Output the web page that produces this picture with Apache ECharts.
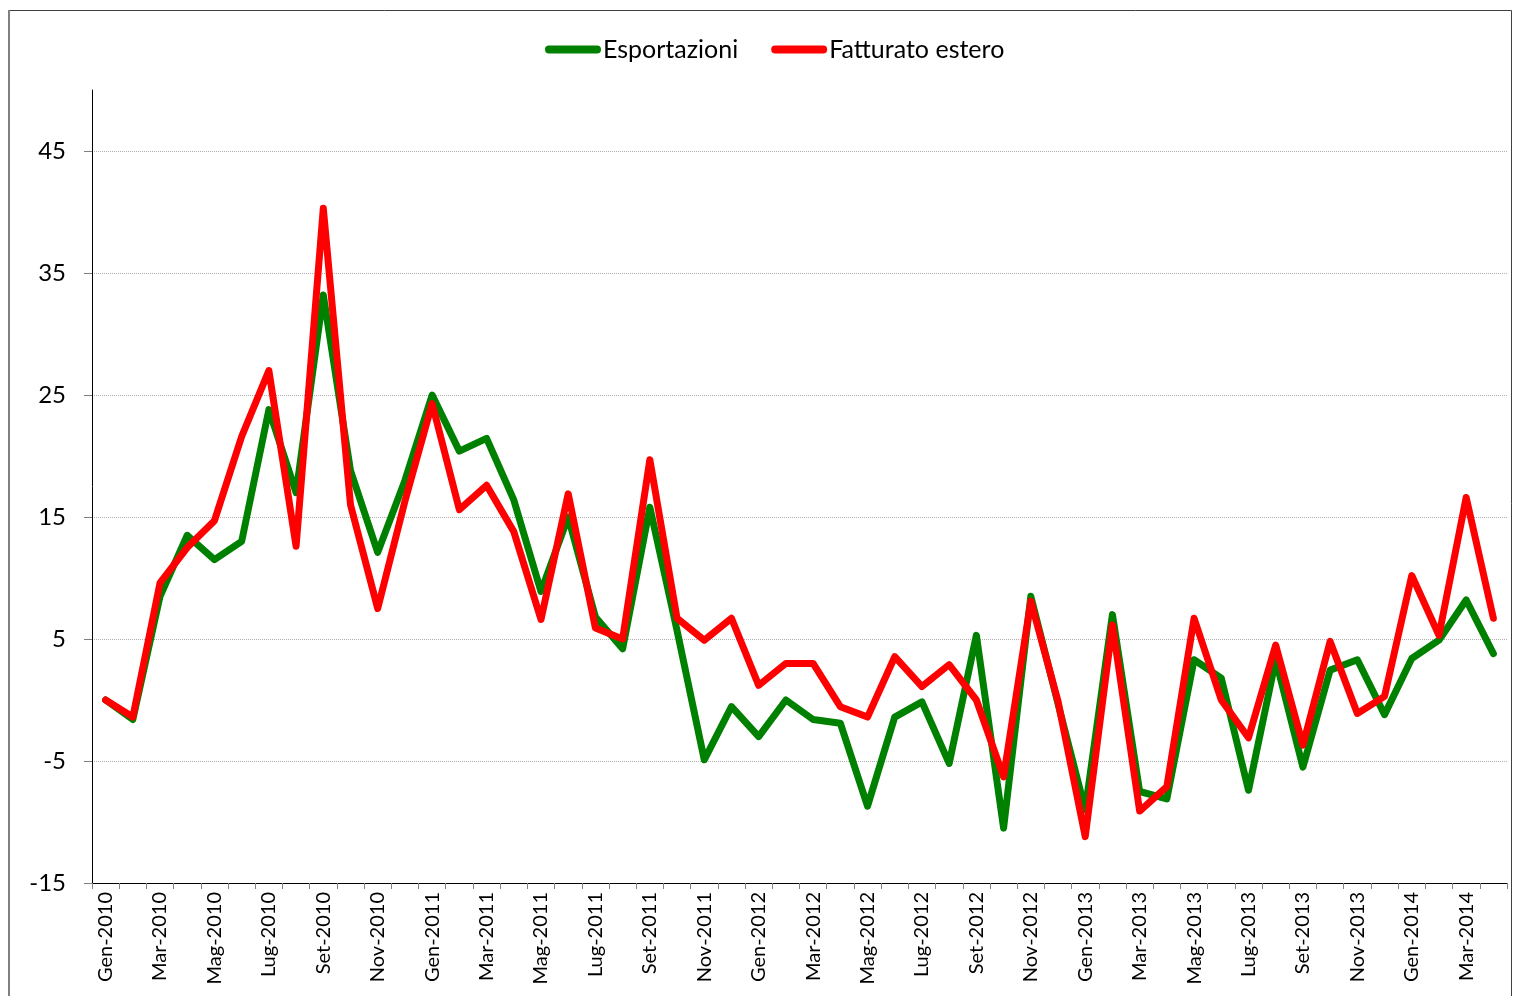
<!DOCTYPE html>
<html>
<head>
<meta charset="utf-8">
<script src="https://cdn.jsdelivr.net/npm/echarts@6/dist/echarts.min.js"></script>
<style>
html,body{margin:0;padding:0;background:#fff;}
#chart{width:1513px;height:996px;}
</style>
</head>
<body>
<div id="chart"></div>
<script>
const categories = [
  'Gen-2010','Feb-2010','Mar-2010','Apr-2010','Mag-2010','Giu-2010','Lug-2010','Ago-2010','Set-2010','Ott-2010','Nov-2010','Dic-2010',
  'Gen-2011','Feb-2011','Mar-2011','Apr-2011','Mag-2011','Giu-2011','Lug-2011','Ago-2011','Set-2011','Ott-2011','Nov-2011','Dic-2011',
  'Gen-2012','Feb-2012','Mar-2012','Apr-2012','Mag-2012','Giu-2012','Lug-2012','Ago-2012','Set-2012','Ott-2012','Nov-2012','Dic-2012',
  'Gen-2013','Feb-2013','Mar-2013','Apr-2013','Mag-2013','Giu-2013','Lug-2013','Ago-2013','Set-2013','Ott-2013','Nov-2013','Dic-2013',
  'Gen-2014','Feb-2014','Mar-2014','Apr-2014'
];
const esportazioni = [
  0, -1.6, 8.5, 13.5, 11.5, 13.0, 23.8, 17.0, 33.2, 18.8, 12.1, 18.0,
  25.0, 20.4, 21.45, 16.4, 8.9, 15.0, 6.8, 4.2, 15.8, 5.7, -4.9, -0.55,
  -3.0, 0.0, -1.6, -1.9, -8.7, -1.4, -0.15, -5.2, 5.3, -10.5, 8.5, -0.3,
  -9.0, 7.0, -7.5, -8.1, 3.3, 1.8, -7.4, 3.3, -5.5, 2.45, 3.3, -1.2,
  3.4, 4.9, 8.2, 3.8
];
const fatturatoEstero = [
  0, -1.4, 9.6, 12.5, 14.7, 21.6, 27.0, 12.6, 40.3, 16.0, 7.5, 16.3,
  24.3, 15.6, 17.6, 13.8, 6.6, 16.9, 5.9, 5.0, 19.7, 6.7, 4.9, 6.7,
  1.2, 3.0, 3.0, -0.55, -1.4, 3.55, 1.1, 2.9, 0.0, -6.3, 8.1, -0.1,
  -11.2, 6.15, -9.1, -7.1, 6.7, 0.0, -3.1, 4.5, -3.7, 4.8, -1.1, 0.3,
  10.2, 5.3, 16.6, 6.7
];
const yTicks = [-15, -5, 5, 15, 25, 35, 45];
const seriesNames = ['Esportazioni', 'Fatturato estero'];

const FONT = 'Lato, "Open Sans", sans-serif';
const chart = echarts.init(document.getElementById('chart'), null, {renderer: 'canvas'});
const legendIcon = 'path://M4,0 H52 A4,4 0 0 1 52,8 H4 A4,4 0 0 1 4,0 Z';

chart.setOption({
  animation: false,
  backgroundColor: '#ffffff',
  textStyle: {fontFamily: FONT},
  graphic: [
    {type: 'rect', silent: true, z: -10,
     shape: {x: 8.5, y: 10.5, width: 1503, height: 1000},
     style: {fill: 'none', stroke: '#404040', lineWidth: 1}},
    {type: 'line', silent: true, z: -9,
     shape: {x1: 9, y1: 10, x2: 9, y2: 996},
     style: {stroke: '#808080', lineWidth: 2}}
  ],
  legend: {
    data: seriesNames,
    left: 540,
    top: 32,
    icon: legendIcon,
    itemWidth: 56,
    itemHeight: 8,
    itemGap: 33,
    itemStyle: {borderWidth: 0},
    lineStyle: {width: 0},
    textStyle: {fontFamily: FONT, fontSize: 25, color: '#000', padding: [0, 0, 0, -3]}
  },
  grid: {left: 92, right: 6, top: 90, bottom: 113, containLabel: false},
  xAxis: {
    type: 'category',
    data: categories,
    boundaryGap: true,
    axisLine: {show: true, onZero: false, lineStyle: {color: '#000', width: 1}},
    axisTick: {show: true, interval: 0, length: 6, lineStyle: {color: '#808080'}},
    axisLabel: {interval: 1, rotate: 90, fontSize: 20, color: '#000', fontFamily: FONT, margin: 9},
    splitLine: {show: false}
  },
  yAxis: {
    type: 'value',
    min: -15,
    max: 50,
    interval: 5,
    axisLine: {show: true, lineStyle: {color: '#000', width: 1}},
    axisTick: {show: true, inside: false, length: 8, lineStyle: {color: '#808080'}, customValues: yTicks},
    axisLabel: {fontSize: 24, color: '#000', fontFamily: FONT, margin: 26, customValues: yTicks},
    splitLine: {show: true, lineStyle: {color: '#b0b0b0', type: 'dotted', width: 1}}
  },
  series: [
    {
      name: seriesNames[0], type: 'line', data: esportazioni,
      showSymbol: false, symbol: 'none', z: 3,
      lineStyle: {color: '#008000', width: 7, join: 'round', cap: 'round'},
      itemStyle: {color: '#008000'}
    },
    {
      name: seriesNames[1], type: 'line', data: fatturatoEstero,
      showSymbol: false, symbol: 'none', z: 4,
      lineStyle: {color: '#ff0000', width: 7, join: 'round', cap: 'round'},
      itemStyle: {color: '#ff0000'}
    }
  ]
});
</script>
</body>
</html>
